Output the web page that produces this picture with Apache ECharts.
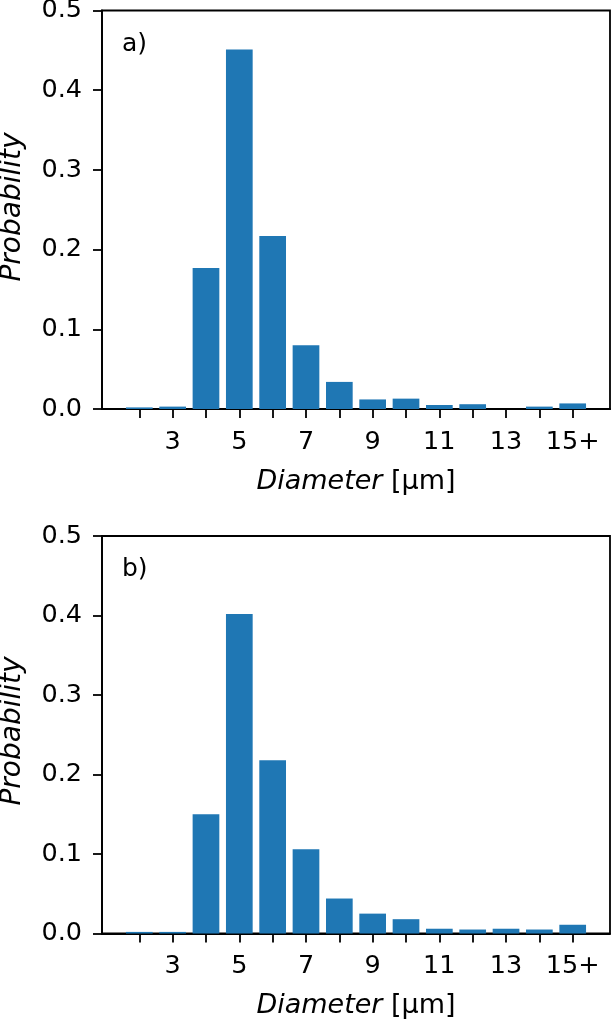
<!DOCTYPE html>
<html>
<head>
<meta charset="utf-8">
<script src="https://cdn.jsdelivr.net/npm/echarts@6/dist/echarts.min.js"></script>
<style>
html,body{margin:0;padding:0;background:#fff;}
#chart{width:612px;height:1020px;}
</style>
</head>
<body>
<div id="chart"></div>
<script>
// Diameter bins (µm); the last bin (15) is "15+"
const diameters = [2, 3, 4, 5, 6, 7, 8, 9, 10, 11, 12, 13, 14, 15];
const probA = [0.002, 0.003, 0.177, 0.451, 0.217, 0.080, 0.034, 0.012, 0.013, 0.005, 0.006, 0.0, 0.003, 0.007];
const probB = [0.002, 0.002, 0.150, 0.402, 0.218, 0.106, 0.044, 0.025, 0.018, 0.006, 0.005, 0.006, 0.005, 0.011];
const xLabelValues = [3, 5, 7, 9, 11, 13, 15];
const xLabelText = {3: '3', 5: '5', 7: '7', 9: '9', 11: '11', 13: '13', 15: '15+'};
const yTicks = [0, 0.1, 0.2, 0.3, 0.4, 0.5];
const panelLabels = ['a)', 'b)'];
const yTitle = 'Probability';

const FONT = 'DejaVu Sans';
const BLUE = '#1f77b4';
const LW = 1.8;

const grids = [
  {left: 102, right: 2, top: 10.5, bottom: 611},
  {left: 102, right: 2, top: 536, bottom: 86.5}
];

function xAxis(i) {
  return {
    type: 'value', gridIndex: i, min: 0.881, max: 16.119,
    axisLine: {show: true, onZero: false, lineStyle: {color: '#000', width: LW}},
    axisTick: {show: true, length: 9, customValues: diameters, lineStyle: {color: '#000', width: LW}},
    axisLabel: {show: true, customValues: xLabelValues, margin: 20,
      formatter: v => xLabelText[Math.round(v)] || '', color: '#000', fontSize: 25.5, fontFamily: FONT},
    splitLine: {show: false},
    name: '{it|Diameter} [µm]', nameLocation: 'middle', nameGap: 59, nameMoveOverlap: false,
    nameTextStyle: {color: '#000', fontSize: 27, fontFamily: FONT,
      rich: {it: {fontStyle: 'italic', fontSize: 27, fontFamily: FONT, color: '#000'}}}
  };
}
function yAxis(i) {
  return {
    type: 'value', gridIndex: i, min: yTicks[0], max: yTicks[yTicks.length - 1], interval: 0.1,
    axisLine: {show: true, lineStyle: {color: '#000', width: LW}},
    axisTick: {show: true, length: 9, lineStyle: {color: '#000', width: LW}},
    axisLabel: {margin: 20, color: '#000', fontSize: 25.5, fontFamily: FONT, formatter: v => v.toFixed(1)},
    splitLine: {show: false}
  };
}
function barSeries(i, vals) {
  return {
    type: 'bar', xAxisIndex: i, yAxisIndex: i, barWidth: 26.7,
    itemStyle: {color: BLUE},
    data: diameters.map((d, k) => [d, vals[k]])
  };
}
function yName(cy) {
  return {type: 'text', x: 13, y: cy, rotation: Math.PI / 2,
    style: {text: yTitle, fontSize: 28, fontStyle: 'italic', fontFamily: FONT, fill: '#000',
      align: 'center', verticalAlign: 'middle'}};
}

const chart = echarts.init(document.getElementById('chart'), null, {renderer: 'canvas'});
chart.setOption({
  animation: false,
  backgroundColor: '#fff',
  grid: grids.map(g => Object.assign({show: true, containLabel: false, outerBoundsMode: 'none',
    borderColor: '#000', borderWidth: LW, backgroundColor: 'transparent'}, g)),
  xAxis: [xAxis(0), xAxis(1)],
  yAxis: [yAxis(0), yAxis(1)],
  series: [barSeries(0, probA), barSeries(1, probB)],
  graphic: [
    {type: 'text', left: 122, top: 32, style: {text: panelLabels[0], fontSize: 25, fontFamily: FONT, fill: '#000'}},
    {type: 'text', left: 122, top: 557, style: {text: panelLabels[1], fontSize: 25, fontFamily: FONT, fill: '#000'}},
    yName(207),
    yName(731)
  ]
});
</script>
</body>
</html>
